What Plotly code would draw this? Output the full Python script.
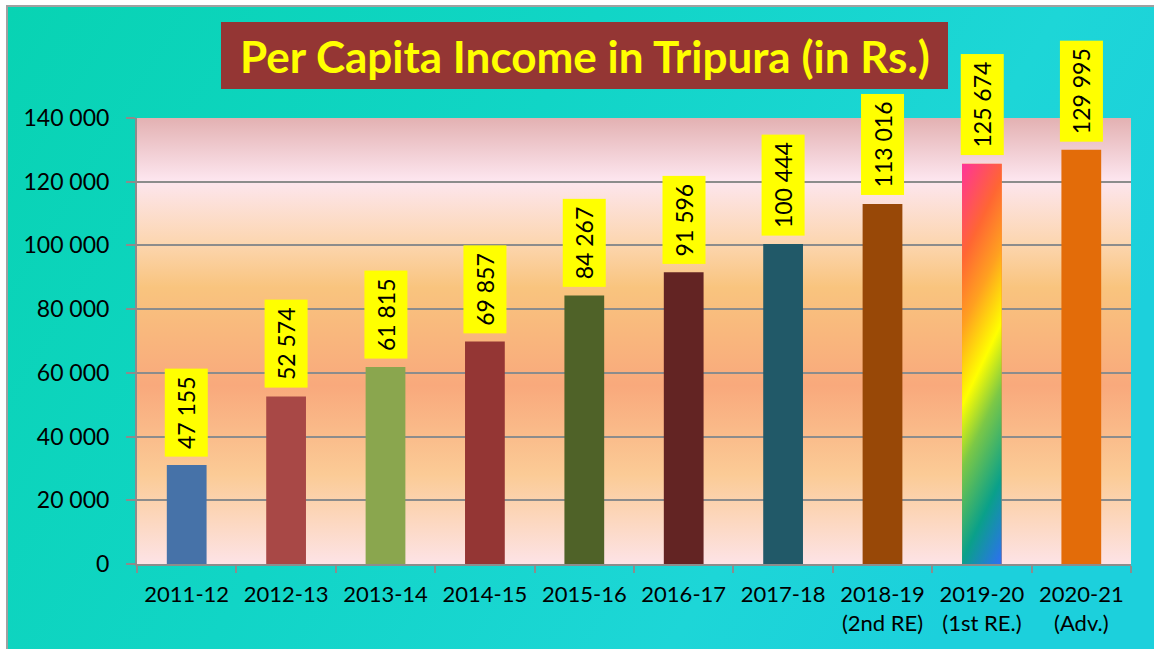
import base64
import plotly.graph_objects as go

# data
years = ["2011-12", "2012-13", "2013-14", "2014-15", "2015-16", "2016-17", "2017-18",
         "2018-19<br>(2nd RE)", "2019-20<br>(1st RE.)", "2020-21<br>(Adv.)"]
bar_values = [31100, 52574, 61815, 69857, 84267, 91596, 100444, 113016, 125674, 129995]
label_values = [47155, 52574, 61815, 69857, 84267, 91596, 100444, 113016, 125674, 129995]
bar_colors = ["#4672a8", "#a84846", "#8aa64e", "#943634", "#4f6228",
              "#632423", "#215968", "#984807", "#ff7a30", "#e36c09"]
rainbow_year = "2019-20<br>(1st RE.)"
y_ticks = [0, 20000, 40000, 60000, 80000, 100000, 120000, 140000]

W, H = 1154, 649
L, R, T, B = 137, 23, 118, 85
PW, PH = W - L - R, H - T - B

FONT = "Lato"
GRID = "#8c8c8c"


def svg_uri(svg):
    return "data:image/svg+xml;base64," + base64.b64encode(svg.encode()).decode()


def px_x(x):
    return (x - L) / PW


def px_y(y):
    return (H - B - y) / PH


paper_svg = f"""<svg xmlns="http://www.w3.org/2000/svg" width="{W}" height="{H}" viewBox="0 0 {W} {H}" preserveAspectRatio="none">
<defs><linearGradient id="g" x1="0" y1="0" x2="1" y2="0.35">
<stop offset="0" stop-color="#08d3b3"/><stop offset="0.45" stop-color="#11d5c6"/>
<stop offset="0.8" stop-color="#1dd6d7"/><stop offset="1" stop-color="#1cd0dc"/>
</linearGradient></defs>
<rect width="{W}" height="{H}" fill="#ffffff"/>
<rect x="6" y="5" width="{W + 20}" height="{H + 20}" fill="#a0a0a0"/>
<rect x="8" y="7" width="{W + 20}" height="{H + 20}" fill="url(#g)"/>
</svg>"""

plot_svg = f"""<svg xmlns="http://www.w3.org/2000/svg" width="{PW}" height="{PH}" viewBox="0 0 {PW} {PH}" preserveAspectRatio="none">
<defs><linearGradient id="p" x1="0" y1="0" x2="0" y2="1">
<stop offset="0" stop-color="#e3b1b2"/><stop offset="0.14" stop-color="#fde6ef"/>
<stop offset="0.28" stop-color="#fcd6b0"/><stop offset="0.38" stop-color="#f9c47e"/>
<stop offset="0.6" stop-color="#f9a97c"/><stop offset="0.8" stop-color="#fbcb96"/>
<stop offset="1" stop-color="#fde3e6"/>
</linearGradient></defs>
<rect width="{PW}" height="{PH}" fill="url(#p)"/>
</svg>"""

rainbow_svg = """<svg xmlns="http://www.w3.org/2000/svg" width="40" height="400" viewBox="0 0 40 400" preserveAspectRatio="none">
<defs><linearGradient id="r" gradientUnits="userSpaceOnUse" x1="0" y1="0" x2="189" y2="91">
<stop offset="0" stop-color="#ff3399"/><stop offset="0.2" stop-color="#ff6633"/>
<stop offset="0.34" stop-color="#ffa020"/><stop offset="0.5" stop-color="#ffff00"/>
<stop offset="0.63" stop-color="#7cc846"/><stop offset="0.82" stop-color="#0aa08a"/>
<stop offset="1" stop-color="#2f6ef4"/>
</linearGradient></defs>
<rect width="40" height="400" fill="url(#r)"/>
</svg>"""

fig = go.Figure()

fig.add_trace(go.Bar(
    x=years, y=bar_values,
    marker=dict(color=bar_colors, line=dict(width=0)),
    width=0.4,
    hoverinfo="skip",
))

# yellow data labels
for yr, v, lab in zip(years, bar_values, label_values):
    fig.add_annotation(
        x=yr, y=v, xref="x", yref="y",
        text=f"{lab:,}".replace(",", " "),
        textangle=-90, showarrow=False,
        xanchor="center", yanchor="bottom", yshift=8,
        bgcolor="#ffff00", borderpad=7,
        font=dict(family=FONT, size=23, color="#000000"),
    )

# title box
fig.add_shape(type="rect", xref="paper", yref="paper",
              x0=px_x(221), x1=px_x(948), y0=px_y(89), y1=px_y(22),
              fillcolor="#943634", line=dict(width=0), layer="above")
fig.add_annotation(
    xref="paper", yref="paper", x=px_x(584.5), y=px_y(56),
    text="<b>Per Capita Income in Tripura (in Rs.)</b>",
    showarrow=False, xanchor="center", yanchor="middle",
    font=dict(family=FONT, size=44, color="#ffff00"),
)

ri = years.index(rainbow_year)
images = [
    dict(source=svg_uri(paper_svg), xref="paper", yref="paper",
         x=-L / PW, y=1 + T / PH, sizex=W / PW, sizey=H / PH,
         xanchor="left", yanchor="top", sizing="stretch", layer="below"),
    dict(source=svg_uri(plot_svg), xref="paper", yref="paper",
         x=0, y=1, sizex=1, sizey=1,
         xanchor="left", yanchor="top", sizing="stretch", layer="below"),
    dict(source=svg_uri(rainbow_svg), xref="x", yref="y",
         x=ri - 0.2, y=bar_values[ri], sizex=0.4, sizey=bar_values[ri],
         xanchor="left", yanchor="top", sizing="stretch", layer="above"),
]

fig.update_layout(
    width=W, height=H,
    margin=dict(l=L, r=R, t=T, b=B),
    paper_bgcolor="#1bd5d3",
    plot_bgcolor="rgba(0,0,0,0)",
    images=images,
    showlegend=False,
    separators=". ",
    font=dict(family=FONT, size=23, color="#000000"),
)

fig.update_xaxes(
    type="category", tickson="boundaries",
    ticks="outside", ticklen=7, tickwidth=2, tickcolor=GRID,
    showline=True, linecolor=GRID, linewidth=2,
    showgrid=False, ticklabelstandoff=10,
    tickfont=dict(family=FONT, size=22, color="#000000"),
)
fig.update_yaxes(
    range=[0, 140000], tickvals=y_ticks, tickformat=",d",
    ticks="outside", ticklen=9, tickwidth=2, tickcolor=GRID,
    showline=True, linecolor=GRID, linewidth=2,
    showgrid=True, gridcolor=GRID, gridwidth=2, zeroline=False,
    ticklabelstandoff=12,
    tickfont=dict(family=FONT, size=23, color="#000000"),
)

fig.write_html("out.html", config={"displayModeBar": False},
               post_script="document.body.style.margin='0';")
